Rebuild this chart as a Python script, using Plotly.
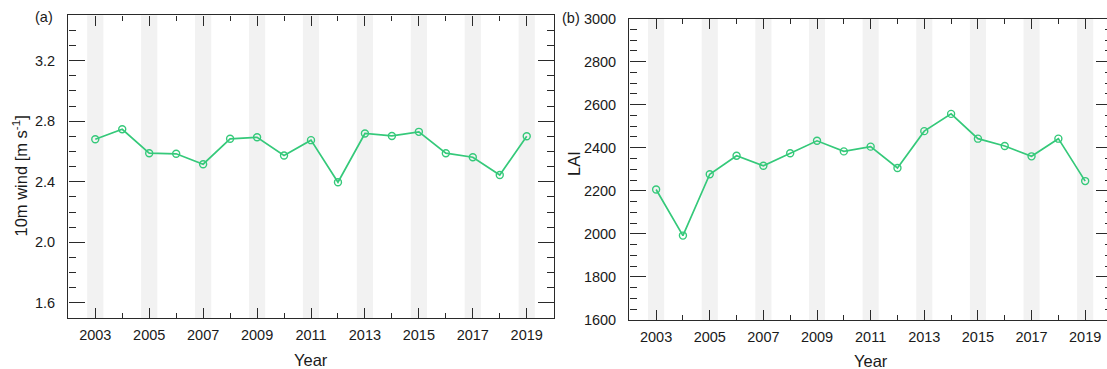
import plotly.graph_objects as go

years = list(range(2003, 2020))
wind = [2.681, 2.747, 2.589, 2.585, 2.516, 2.684, 2.694, 2.574, 2.675, 2.397,
        2.719, 2.703, 2.730, 2.589, 2.562, 2.445, 2.701]
lai = [2206, 1992, 2277, 2363, 2316, 2374, 2432, 2383, 2405, 2306,
       2477, 2557, 2442, 2408, 2360, 2442, 2245]
band_years = [y for y in years if y % 2 == 1]
xtick_vals = band_years
xtick_text = [str(y) for y in band_years]

# Layout in window pixels. The right panel's frame sits just past the
# window's right edge (x=1112), as in the reference.
RIGHT_EDGE = 1112
W, H = RIGHT_EDGE, 369
GREEN = "#35c97a"
FRAME = "#2a2a2a"
FONT = "Liberation Sans, Arial, Helvetica, sans-serif"

def px_x(p):
    return p / W

def px_y(p):
    return 1 - p / H

fig = go.Figure()
fig.add_trace(go.Scatter(x=years, y=wind, mode="lines+markers",
                         line=dict(color=GREEN, width=1.7),
                         marker=dict(symbol="circle-open", size=7, color=GREEN,
                                     line=dict(width=1.4, color=GREEN)),
                         xaxis="x", yaxis="y", showlegend=False))
fig.add_trace(go.Scatter(x=years, y=lai, mode="lines+markers",
                         line=dict(color=GREEN, width=1.7),
                         marker=dict(symbol="circle-open", size=7, color=GREEN,
                                     line=dict(width=1.4, color=GREEN)),
                         xaxis="x2", yaxis="y2", showlegend=False))

shapes = []
for xr, yr in (("x", "y domain"), ("x2", "y2 domain")):
    for y in band_years:
        shapes.append(dict(type="rect", xref=xr, yref=yr, x0=y - 0.3, x1=y + 0.3,
                           y0=0, y1=1, fillcolor="#f2f2f2", line=dict(width=0),
                           layer="below"))

tickfont = dict(family=FONT, size=14.5, color="#1a1a1a")

def xaxis(domain, rng, anchor):
    return dict(domain=domain, range=rng, anchor=anchor, automargin=False,
                tickmode="array", tickvals=xtick_vals, ticktext=xtick_text,
                ticks="inside", ticklen=10, tickwidth=1.3, tickcolor=FRAME,
                minor=dict(dtick=1, tick0=2002, ticks="inside", ticklen=5,
                           tickwidth=1.1, tickcolor=FRAME, showgrid=False),
                showline=True, linecolor=FRAME, linewidth=1.4, mirror="ticks",
                showgrid=False, zeroline=False, tickfont=tickfont,
                ticklabelstandoff=3)

def yaxis(domain, rng, dtick, tick0, mdtick, anchor, fmt):
    return dict(domain=domain, range=rng, anchor=anchor, automargin=False,
                dtick=dtick, tick0=tick0, tickformat=fmt,
                ticks="inside", ticklen=16, tickwidth=1.3, tickcolor=FRAME,
                minor=dict(dtick=mdtick, ticks="inside", ticklen=7,
                           tickwidth=1.1, tickcolor=FRAME, showgrid=False),
                showline=True, linecolor=FRAME, linewidth=1.4, mirror="ticks",
                showgrid=False, zeroline=False, tickfont=tickfont,
                ticklabelstandoff=9)

def ann(text, x, y, size, angle=0):
    return dict(text=text, x=px_x(x), y=px_y(y), xref="paper", yref="paper",
                xanchor="center", yanchor="middle", showarrow=False,
                textangle=angle, font=dict(size=size))

fig.update_layout(
    template="none",
    width=W, height=H, autosize=False,
    margin=dict(l=0, r=0, t=0, b=0, pad=0, autoexpand=False),
    paper_bgcolor="white", plot_bgcolor="white",
    font=dict(family=FONT, size=14.5, color="#1a1a1a"),
    xaxis=xaxis([px_x(68.3), px_x(553.7)], [2002, 2020], "y"),
    yaxis=yaxis([px_y(318), px_y(15.3)], [1.5, 3.5], 0.4, 1.6, 0.1, "x", ".1f"),
    xaxis2=xaxis([px_x(629.3), 1.0], [2002, 2020], "y2"),
    yaxis2=yaxis([px_y(320), px_y(18.5)], [1600, 3000], 200, 1600, 50, "x2", "d"),
    shapes=shapes,
    annotations=[
        ann("(a)", 44, 17, 14.5),
        ann("(b)", 571, 18, 14.5),
        ann("10m wind [m s<sup>-1</sup>]", 20.5, 176, 16.5, -90),
        ann("LAI", 574, 164, 16.5, -90),
        ann("Year", 311, 360, 16.5),
        ann("Year", 870.6, 360.7, 16.5),
    ],
)

fig.write_html(
    "out.html",
    config={"displayModeBar": False},
    post_script="document.body.style.margin='0';"
                "document.body.style.overflow='hidden';",
)
